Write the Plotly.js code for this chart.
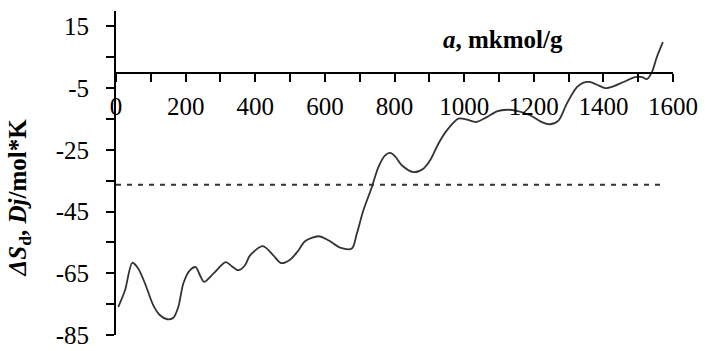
<!DOCTYPE html>
<html>
<head>
<meta charset="utf-8">
<script src="https://cdn.plot.ly/plotly-3.0.1.min.js"></script>
<style>
  html, body { margin: 0; padding: 0; background: #ffffff; }
  #chart { width: 709px; height: 351px; }
</style>
</head>
<body>
<div id="chart"></div>
<script>
// Adsorption amount a, mkmol/g
const aValues = [6.6, 25.9, 46.8, 64.1, 83.3, 107.2, 126.4, 147.4, 164.7, 179, 193.4, 212.6, 229, 241.4, 252.9,
  279.6, 315.2, 332.5, 351.4, 370.7, 385, 421.6, 452, 474, 500, 523.9, 543, 582, 610, 643.7, 677.3, 691.7,
  710.6, 734.8, 753.7, 773, 787.4, 801.7, 821, 854.3, 883, 902.3, 926.1, 950.3, 983.6, 1007.8, 1034.5,
  1065.2, 1094, 1122.7, 1151.4, 1189.7, 1223.3, 1247.1, 1271, 1295, 1323.9, 1342.8, 1360, 1386, 1405,
  1429, 1457.8, 1491.4, 1510.6, 1525, 1539.4, 1553.7, 1571];
// Differential entropy ΔSd, Dj/mol*K
const dSValues = [-75.9, -70.5, -61.6, -63.5, -68.3, -75.4, -78.6, -79.9, -79.4, -75.9, -68.3, -64, -63, -65.7, -67.8,
  -65.1, -61.4, -62.7, -64, -62.4, -59.2, -56.2, -59.2, -61.7, -60.6, -57.6, -54.6, -53, -54.3, -56.7, -57, -52.2,
  -44.6, -37.1, -30.6, -26.8, -26, -27.1, -30, -32.2, -31.1, -28.4, -23, -18.7, -14.9, -15.2, -16,
  -14.4, -12.5, -12, -12.4, -13.8, -16, -16.7, -15.5, -10, -4.7, -3.2, -3, -4.1, -5,
  -4.4, -3, -1.4, -1.4, -2.1, 0.2, 5.1, 9.9];
// Reference (dashed) level
const refX = [0, 1568];
const refY = [-36.3, -36.3];
// Axis ticks
const xTickVals = [0, 200, 400, 600, 800, 1000, 1200, 1400, 1600];
const xTickText = ["0", "200", "400", "600", "800", "1000", "1200", "1400", "1600"];
const yTickVals = [-85, -65, -45, -25, -5, 15];
const yTickText = ["-85", "-65", "-45", "-25", "-5", "15"];
const xMinorStep = 100;
const yMinorStep = 10;
const xRange = [0, 1600];
const yRange = [-85, 20];

const serif = "Liberation Serif, Times New Roman, serif";

const traces = [
  {
    x: aValues, y: dSValues, type: "scatter", mode: "lines",
    line: { color: "#333333", width: 1.8, shape: "spline", smoothing: 0.8 },
    hoverinfo: "skip", showlegend: false
  },
  {
    x: refX, y: refY, type: "scatter", mode: "lines",
    line: { color: "#333333", width: 2, dash: "5px,6px" },
    hoverinfo: "skip", showlegend: false
  }
];

const layout = {
  width: 709, height: 351,
  margin: { l: 116, r: 36, t: 11, b: 16, pad: 0 },
  paper_bgcolor: "#ffffff", plot_bgcolor: "#ffffff",
  showlegend: false,
  font: { family: serif, size: 25, color: "#000000" },
  xaxis: {
    range: xRange, fixedrange: true,
    anchor: "free", position: (0 - yRange[0]) / (yRange[1] - yRange[0]),
    showline: true, linecolor: "#000000", linewidth: 2,
    showgrid: false, zeroline: false,
    ticks: "outside", ticklen: 8, tickwidth: 2, tickcolor: "#000000",
    tickmode: "array", tickvals: xTickVals, ticktext: xTickText,
    minor: { tick0: xRange[0], dtick: xMinorStep, ticks: "outside", ticklen: 8, tickwidth: 2, tickcolor: "#000000", showgrid: false },
    tickfont: { family: serif, size: 25, color: "#000000" },
    ticklabelstandoff: 3
  },
  yaxis: {
    range: yRange, fixedrange: true,
    showline: true, linecolor: "#000000", linewidth: 2,
    showgrid: false, zeroline: false,
    ticks: "outside", ticklen: 8, tickwidth: 2, tickcolor: "#000000",
    tickmode: "array", tickvals: yTickVals, ticktext: yTickText,
    minor: { tick0: yRange[0], dtick: yMinorStep, ticks: "outside", ticklen: 8, tickwidth: 2, tickcolor: "#000000", showgrid: false },
    tickfont: { family: serif, size: 25, color: "#000000" },
    ticklabelstandoff: 12
  },
  annotations: [
    {
      text: "<b><i>a</i>, mkmol/g</b>",
      x: 1112, y: 10.8, xref: "x", yref: "y",
      xanchor: "center", yanchor: "middle", showarrow: false,
      font: { family: serif, size: 25, color: "#000000" }
    },
    {
      text: "<b><i>ΔS</i><sub>d</sub>, <i>Dj</i>/mol*K</b>",
      x: 0, xref: "paper", xshift: -97,
      y: -40.4, yref: "y",
      xanchor: "center", yanchor: "middle", textangle: -90, showarrow: false,
      font: { family: serif, size: 25, color: "#000000" }
    }
  ]
};

Plotly.newPlot("chart", traces, layout, { staticPlot: true, displayModeBar: false });
</script>
</body>
</html>
